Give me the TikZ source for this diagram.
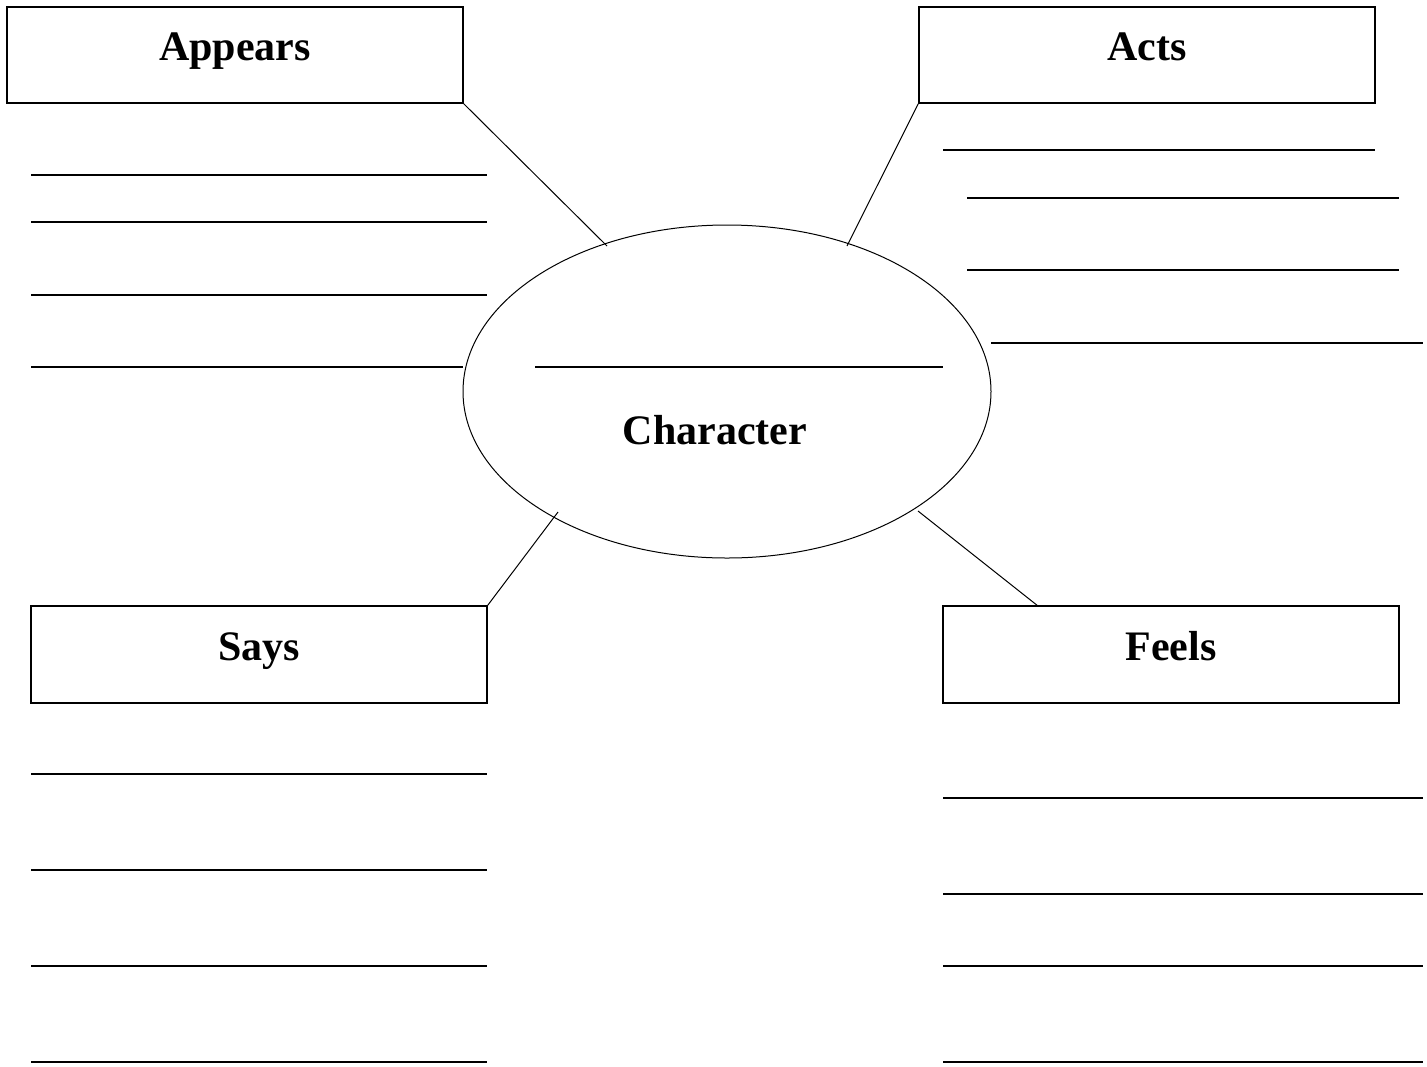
\documentclass[tikz,border=0pt]{standalone}
\usepackage{fontspec}
\setmainfont{Liberation Serif}
\usetikzlibrary{shapes.geometric}
\begin{document}
\begin{tikzpicture}[x=1pt,y=-1pt,
  labelbox/.style={draw, line width=1.5pt, inner sep=0pt, minimum width=456pt,
    text height=53pt, text depth=43pt, anchor=base,
    font=\fontsize{42}{50}\selectfont\bfseries},
  blank/.style={line width=1.5pt},
  link/.style={line width=1pt}]
\useasboundingbox (0,0) rectangle (1427,1066);
% boxes
\node[labelbox] (appears) at (235,60) {Appears};
\node[labelbox] (acts) at (1147,60) {Acts};
\node[labelbox, text height=54pt] (says) at (259,660) {Says};
\node[labelbox, text height=54pt] (feels) at (1171,660) {Feels};
% ellipse
\node[ellipse, draw, line width=1pt, minimum width=528pt, minimum height=333pt, inner sep=0pt] (char) at (727,391.5) {};
\node[font=\fontsize{42}{50}\selectfont\bfseries, anchor=base] (charlabel) at (715,444) {Character};
\draw[blank] (535,367) -- (943,367);
% connectors
\coordinate (c1) at (607,246);
\coordinate (c2) at (847,246);
\coordinate (c3) at (558,512);
\coordinate (c4) at (918,511);
\coordinate (f4) at (1038,606);
\draw[link] (appears.south east) -- (c1);
\draw[link] (acts.south west) -- (c2);
\draw[link] (says.north east) -- (c3);
\draw[link] (f4) -- (c4);
% writing lines: Appears
\foreach \y in {175,222,295} \draw[blank] (31,\y) -- (487,\y);
\draw[blank] (31,367) -- (463,367);
% Acts
\draw[blank] (943,150) -- (1375,150);
\draw[blank] (967,198) -- (1399,198);
\draw[blank] (967,270) -- (1399,270);
\draw[blank] (991,343) -- (1423,343);
% Says
\foreach \y in {774,870,966,1062} \draw[blank] (31,\y) -- (487,\y);
% Feels
\foreach \y in {798,894,966,1062} \draw[blank] (943,\y) -- (1423,\y);
\end{tikzpicture}
\end{document}
